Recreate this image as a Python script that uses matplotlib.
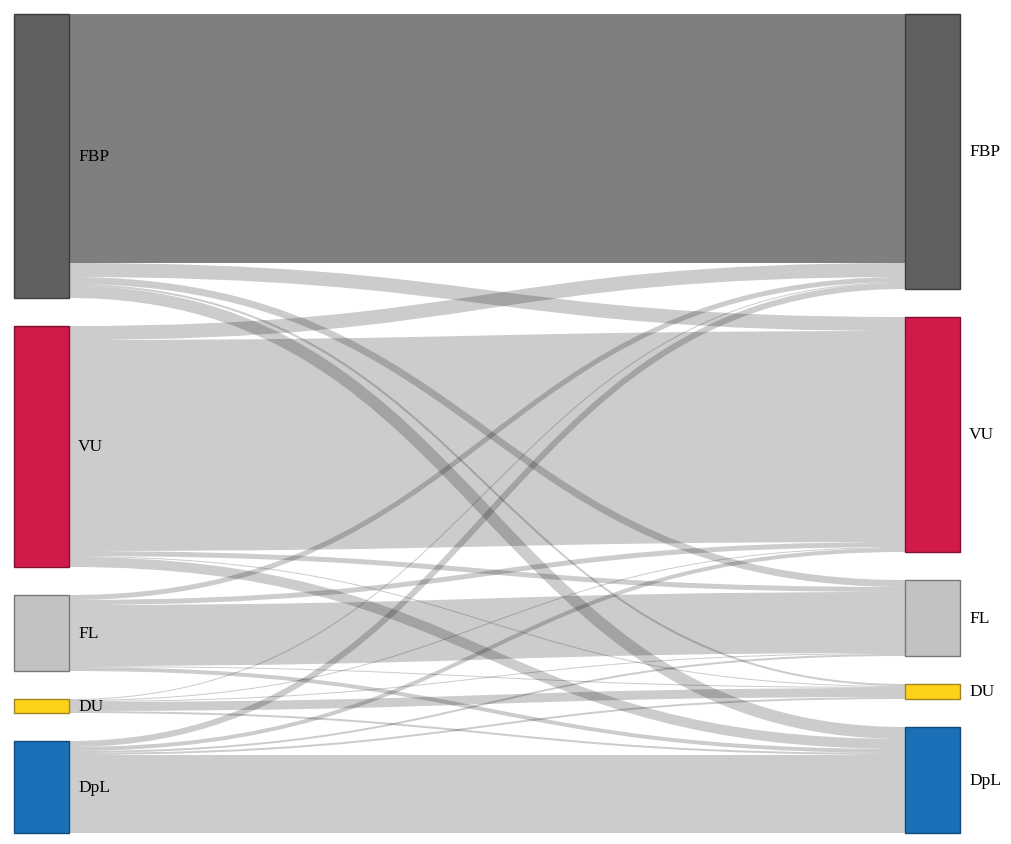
import matplotlib
matplotlib.use('Agg')
import matplotlib.pyplot as plt
from matplotlib.path import Path
from matplotlib.patches import PathPatch, Rectangle

# Parties (same order in both columns)
parties = ['FBP', 'VU', 'FL', 'DU', 'DpL']
node_colors = ['#5f6062', '#d21a49', '#c2c2c2', '#ffd21a', '#1b6fb7']
edge_colors = ['#3c3c3c', '#7e1030', '#777777', '#a08520', '#12497a']

# flows[i][j]: from left party i to right party j
flows = [
    [249, 14, 7, 2, 12],   # FBP
    [14, 211, 5, 1, 10],   # VU
    [5, 5, 61, 1, 4],      # FL
    [1, 1, 1, 9, 2],       # DU
    [6, 4, 2, 2, 78],      # DpL
]

W, H = 1011, 845
top, bottom = 15, 834
pad = 28
node_w = 55
col_x = [14, 905]

n = len(parties)
left_tot = [sum(flows[i]) for i in range(n)]
right_tot = [sum(flows[i][j] for i in range(n)) for j in range(n)]
ky = (bottom - top - pad * (n - 1)) / max(sum(left_tot), sum(right_tot))


def stack(totals):
    ys = []
    y = top
    for t in totals:
        ys.append(y)
        y += t * ky + pad
    return ys


left_y = stack(left_tot)
right_y = stack(right_tot)

fig = plt.figure(figsize=(W / 100, H / 100), dpi=100)
ax = fig.add_axes([0, 0, 1, 1])
ax.set_xlim(0, W)
ax.set_ylim(H, 0)
ax.axis('off')

# links
out_off = list(left_y)
in_off = list(right_y)
x0 = col_x[0] + node_w
x1 = col_x[1]
xm = (x0 + x1) / 2
for i in range(n):
    for j in range(n):
        v = flows[i][j]
        w = v * ky
        ys = out_off[i] + w / 2
        yt = in_off[j] + w / 2
        out_off[i] += w
        in_off[j] += w
        path = Path([(x0, ys), (xm, ys), (xm, yt), (x1, yt)],
                    [Path.MOVETO, Path.CURVE4, Path.CURVE4, Path.CURVE4])
        alpha = 0.5 if (i == 0 and j == 0) else 0.2
        ax.add_patch(PathPatch(path, facecolor='none', edgecolor='black',
                               alpha=alpha, lw=w * 0.72, capstyle='butt'))

# nodes and labels
for col, ys_, tots in [(0, left_y, left_tot), (1, right_y, right_tot)]:
    for k in range(n):
        h = tots[k] * ky
        ax.add_patch(Rectangle((col_x[col], ys_[k]), node_w, h,
                               facecolor=node_colors[k], edgecolor=edge_colors[k], lw=1))
        ax.text(col_x[col] + node_w + 9, ys_[k] + h / 2, parties[k],
                ha='left', va='center', fontsize=12.5, family='Liberation Serif')

fig.savefig('out.png', dpi=100)
